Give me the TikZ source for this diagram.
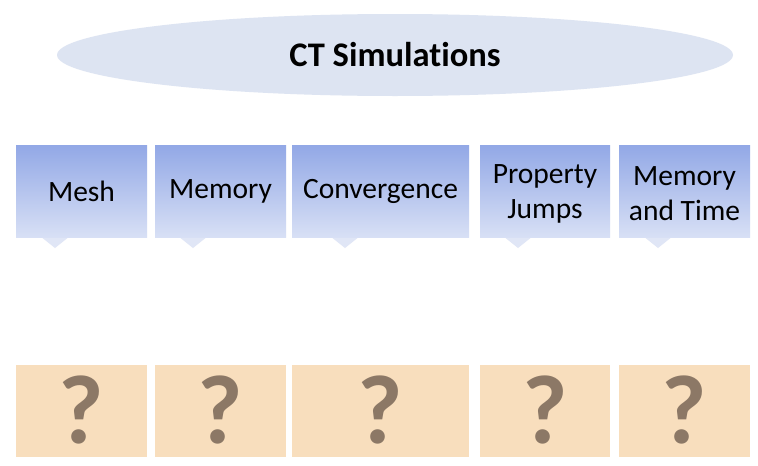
\documentclass[tikz,border=0pt]{standalone}
\usepackage{fontspec}
\setmainfont{Carlito}[Ligatures={NoCommon}]
\definecolor{topblue}{RGB}{146,168,230}
\definecolor{botblue}{RGB}{216,224,245}
\definecolor{ptrblue}{RGB}{224,230,246}
\definecolor{ellfill}{RGB}{221,228,242}
\definecolor{tanfill}{RGB}{248,222,189}
\definecolor{qmark}{RGB}{140,120,102}
\tikzset{
  topbox/.style={rectangle, inner sep=0pt, minimum height=92pt, top color=topblue, bottom color=botblue, shading angle=0},
  toptext/.style={inner sep=0pt, align=center, font=\fontsize{29.5}{35}\selectfont, text=black},
  ansbox/.style={rectangle, inner sep=0pt, minimum height=92pt, fill=tanfill},
  qm/.style={inner sep=0pt, text height=66pt, text depth=0pt, font=\bfseries\fontsize{98}{98}\selectfont, text=qmark},
  ell/.style={ellipse, fill=ellfill, minimum width=676pt, minimum height=82pt, inner sep=0pt, font=\bfseries\fontsize{34.5}{40}\selectfont}
}
\usetikzlibrary{shapes.geometric}
\begin{document}
\begin{tikzpicture}[x=1pt,y=-1pt]
\useasboundingbox (0,0) rectangle (758,466);
\fill[white] (0,0) rectangle (758,466);
\node[ell] (title) at (395,55) {CT Simulations};
% pointers
\foreach \px in {55,193,345,518,658}{
  \fill[ptrblue] (\px-15,236) -- (\px,248) -- (\px+15,236) -- cycle;
}
\node[topbox, minimum width=131pt] (b1) at (81.5,191) {};
\node[topbox, minimum width=131pt] (b2) at (220.5,191) {};
\node[topbox, minimum width=177pt] (b3) at (380.5,191) {};
\node[topbox, minimum width=130pt] (b4) at (545,191) {};
\node[topbox, minimum width=131pt] (b5) at (684.5,191) {};
\node[toptext] (t1) at (b1.center) {Mesh};
\node[toptext] (t2) at (b2.center) {Memory};
\node[toptext] (t3) at (b3.center) {Convergence};
\node[toptext] (t4) at ([yshift=-3pt]b4.center) {Property\\Jumps};
\node[toptext] (t5) at ([yshift=-3pt]b5.center) {Memory\\and Time};
\node[ansbox, minimum width=131pt] (a1) at (81.5,411) {};
\node[ansbox, minimum width=131pt] (a2) at (220.5,411) {};
\node[ansbox, minimum width=177pt] (a3) at (380.5,411) {};
\node[ansbox, minimum width=130pt] (a4) at (545,411) {};
\node[ansbox, minimum width=131pt] (a5) at (684.5,411) {};
\foreach \n in {1,...,5}{
  \node[qm, anchor=base] (q\n) at ([yshift=-32pt]a\n.center) {?};
}
\end{tikzpicture}
\end{document}
